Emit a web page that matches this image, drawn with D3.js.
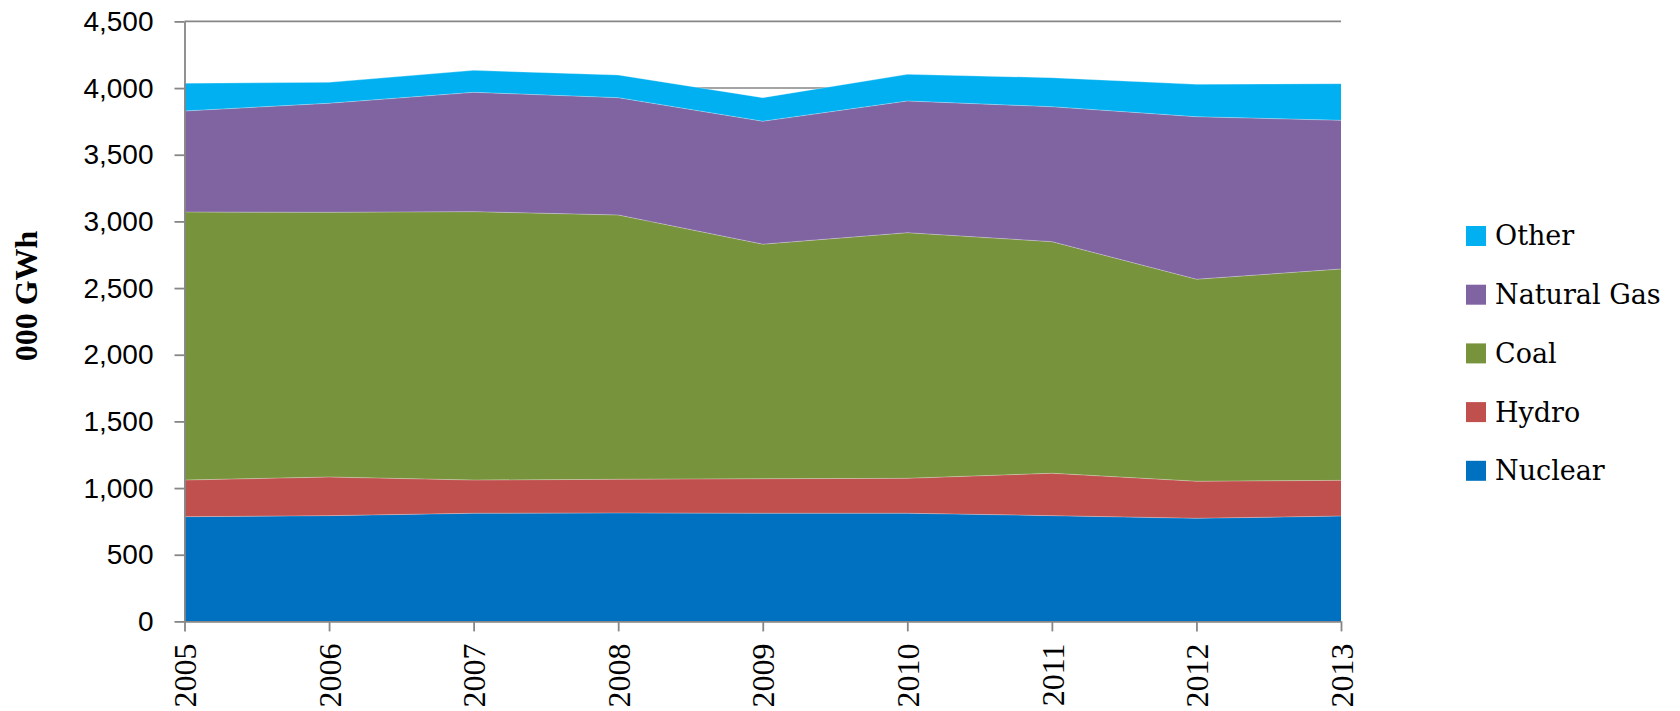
<!DOCTYPE html>
<html>
<head>
<meta charset="utf-8">
<script src="https://cdn.jsdelivr.net/npm/d3@7"></script>
<style>
  html, body { margin: 0; padding: 0; background: #fff; }
  svg { display: block; }
</style>
</head>
<body>
<svg id="chart" width="1680" height="711"></svg>
<script>
// ---- Data (000 GWh) ----
const years = [2005, 2006, 2007, 2008, 2009, 2010, 2011, 2012, 2013];
const nuclear    = [785, 793, 811, 813, 811, 811, 793, 773, 790];
const hydro      = [275, 290, 249, 253, 259, 262, 318, 278, 268];
const coal       = [2010, 1985, 2013, 1982, 1759, 1842, 1737, 1515, 1585];
const naturalGas = [758, 818, 895, 880, 922, 988, 1012, 1219, 1115];
const other      = [208, 157, 165, 170, 177, 200, 218, 243, 275];
const seriesNames = ["Nuclear", "Hydro", "Coal", "Natural Gas", "Other"];
const seriesColors = ["#0070C0", "#C0504D", "#77933C", "#8064A2", "#00B0F0"];
const yTicks = [0, 500, 1000, 1500, 2000, 2500, 3000, 3500, 4000, 4500];
const yTitle = "000 GWh";

const seriesValues = [nuclear, hydro, coal, naturalGas, other];
const table = years.map((yr, i) => {
  const row = { year: yr };
  seriesNames.forEach((n, k) => row[n] = seriesValues[k][i]);
  return row;
});

const svg = d3.select("#chart");
const plotLeft = 184.5, plotRight = 1341, plotTop = 21.4, plotBottom = 621.4;
const x = d3.scaleLinear().domain([years[0], years[years.length - 1]]).range([plotLeft, plotRight]);
const y = d3.scaleLinear().domain([0, 4500]).range([plotBottom, plotTop]);
const axisColor = "#868686";

// gridlines
svg.append("g").selectAll("line").data(yTicks.filter(d => d > 0)).join("line")
  .attr("x1", plotLeft).attr("x2", plotRight)
  .attr("y1", d => y(d)).attr("y2", d => y(d))
  .attr("stroke", axisColor).attr("stroke-width", 1.6);

// stacked areas
const stack = d3.stack().keys(seriesNames);
const layers = stack(table);
const area = d3.area()
  .x(d => x(d.data.year))
  .y0(d => y(d[0]))
  .y1(d => y(d[1]));
svg.append("g").selectAll("path").data(layers).join("path")
  .attr("d", area)
  .attr("fill", (d, i) => seriesColors[i]);

// subtle light edge on top of each layer
const topLine = d3.line().x(d => x(d.data.year)).y(d => y(d[1]));
svg.append("g").selectAll("path").data(layers).join("path")
  .attr("d", topLine)
  .attr("fill", "none")
  .attr("stroke", "rgba(255,255,255,0.3)")
  .attr("stroke-width", 1);

// y axis
const yAxis = svg.append("g").attr("transform", `translate(${plotLeft},0)`)
  .call(d3.axisLeft(y).tickValues(yTicks).tickFormat(d3.format(",")).tickSize(10).tickPadding(21).tickSizeOuter(0));
yAxis.select(".domain").attr("stroke", axisColor).attr("stroke-width", 1.8);
yAxis.selectAll(".tick line").attr("stroke", axisColor).attr("stroke-width", 1.8);
yAxis.selectAll(".tick text")
  .attr("font-family", "'Liberation Sans', Arial, sans-serif")
  .attr("font-size", 28).attr("fill", "#000");

// x axis
const xAxis = svg.append("g").attr("transform", `translate(0,${plotBottom})`)
  .call(d3.axisBottom(x).tickValues(years).tickFormat(d3.format("d")).tickSize(10).tickSizeOuter(0));
xAxis.select(".domain").attr("stroke", axisColor).attr("stroke-width", 1.8);
xAxis.selectAll(".tick line").attr("stroke", axisColor).attr("stroke-width", 1.8);
xAxis.selectAll(".tick text")
  .attr("font-family", "'Liberation Serif', 'Times New Roman', serif")
  .attr("font-size", 32).attr("fill", "#000")
  .attr("transform", "rotate(-90)")
  .attr("x", -22).attr("y", 0).attr("dy", "0.35em")
  .attr("text-anchor", "end");

// y title
svg.append("text")
  .attr("transform", "translate(37,296) rotate(-90)")
  .attr("text-anchor", "middle")
  .attr("font-family", "'Liberation Serif', 'Times New Roman', serif")
  .attr("font-weight", "bold")
  .attr("font-size", 32)
  .text(yTitle);

// legend (top to bottom: Other ... Nuclear)
const legendOrder = seriesNames.map((n, i) => ({ name: n, color: seriesColors[i] })).reverse();
const lg = svg.append("g").selectAll("g").data(legendOrder).join("g")
  .attr("transform", (d, i) => `translate(1466,${236 + i * 58.7})`);
lg.append("rect").attr("x", 0).attr("y", -10).attr("width", 20).attr("height", 20)
  .attr("fill", d => d.color);
lg.append("text").attr("x", 29).attr("y", 0).attr("dy", "0.35em")
  .attr("font-family", "'DejaVu Serif', 'Liberation Serif', serif")
  .attr("font-size", 27).attr("fill", "#000")
  .text(d => d.name);
</script>
</body>
</html>
